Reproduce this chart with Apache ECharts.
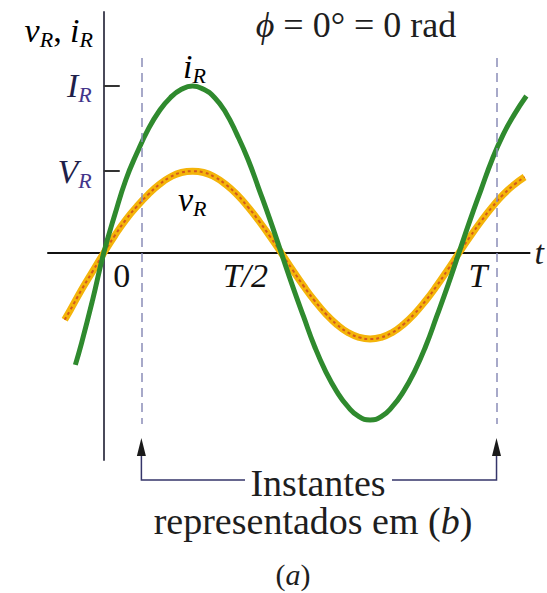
<!DOCTYPE html>
<html>
<head>
<meta charset="utf-8">
<script src="https://cdn.jsdelivr.net/npm/echarts@6/dist/echarts.min.js"></script>
<style>
  html, body { margin: 0; padding: 0; background: #fff; }
  #chart { width: 547px; height: 593px; }
</style>
</head>
<body>
<div id="chart"></div>
<script>
// Time in units of the period T; amplitudes in units of the current peak I_R.
const tCurrent = [-0.08, -0.0625, -0.03125, 0,
  0.03125, 0.0625, 0.09375, 0.125, 0.15625, 0.1875, 0.21875, 0.25,
  0.28125, 0.3125, 0.34375, 0.375, 0.40625, 0.4375, 0.46875, 0.5,
  0.53125, 0.5625, 0.59375, 0.625, 0.65625, 0.6875, 0.71875, 0.75,
  0.78125, 0.8125, 0.84375, 0.875, 0.90625, 0.9375, 0.96875, 1.0,
  1.03125, 1.0625, 1.09375, 1.125, 1.15625, 1.19];
const iR = [-0.67, -0.54, -0.28, 0,
  0.23, 0.44, 0.60, 0.74, 0.85, 0.93, 0.98, 1.0,
  0.98, 0.93, 0.84, 0.71, 0.56, 0.38, 0.195, 0,
  -0.195, -0.38, -0.56, -0.71, -0.83, -0.92, -0.98, -1.0,
  -0.98, -0.92, -0.83, -0.71, -0.56, -0.38, -0.195, 0,
  0.195, 0.38, 0.56, 0.71, 0.83, 0.94];

const tVoltage = [-0.11, -0.09375, -0.0625, -0.03125, 0,
  0.03125, 0.0625, 0.09375, 0.125, 0.15625, 0.1875, 0.21875, 0.25,
  0.28125, 0.3125, 0.34375, 0.375, 0.40625, 0.4375, 0.46875, 0.5,
  0.53125, 0.5625, 0.59375, 0.625, 0.65625, 0.6875, 0.71875, 0.75,
  0.78125, 0.8125, 0.84375, 0.875, 0.90625, 0.9375, 0.96875, 1.0,
  1.03125, 1.0625, 1.09375, 1.125, 1.15625, 1.185];
const vR = [-0.40, -0.34, -0.22, -0.11, 0,
  0.105, 0.20, 0.28, 0.35, 0.41, 0.455, 0.482, 0.49,
  0.482, 0.455, 0.41, 0.35, 0.275, 0.19, 0.097, 0,
  -0.10, -0.197, -0.286, -0.364, -0.428, -0.476, -0.505, -0.515,
  -0.505, -0.476, -0.428, -0.364, -0.286, -0.197, -0.10, 0,
  0.097, 0.19, 0.275, 0.35, 0.41, 0.455];

// Axis ticks and their labels
const xTickValues = [0, 0.5, 1];
const xTickLabels = ['0', 'T/2', 'T'];
const yTickValues = [0.49, 1.0];
const yTickLabels = ['V', 'I'];

// Instants marked by the dashed lines (in units of T)
const instants = [0.106, 1.106];

const SERIF = '"Liberation Serif", "DejaVu Serif", serif';

const pair = (xs, ys) => xs.map((x, k) => [x, ys[k]]);

const chart = echarts.init(document.getElementById('chart'), null, { renderer: 'svg' });

const subRich = {
  m: { fontFamily: SERIF, fontStyle: 'italic', fontSize: 34, color: '#1f1f4a', lineHeight: 40, verticalAlign: 'middle' },
  s: { fontFamily: SERIF, fontStyle: 'italic', fontSize: 22, color: '#43358a', lineHeight: 22, verticalAlign: 'bottom' },
  p: { fontFamily: SERIF, fontSize: 34, color: '#1f1f4a', lineHeight: 40, verticalAlign: 'middle' }
};

// Horizontal nudges of the t-axis labels relative to their ticks
const xLabelShift = [18, -36, 19];

chart.setOption({
  animation: false,
  grid: { left: 48, right: 15, top: 12, bottom: 133 },
  xAxis: {
    type: 'value',
    min: -0.157, max: 1.199,
    axisLine: { onZero: true, lineStyle: { color: '#111', width: 2 } },
    axisTick: { show: false },
    splitLine: { show: false },
    axisLabel: { show: false },
    name: 't',
    nameLocation: 'end',
    nameGap: 5,
    nameTextStyle: { fontFamily: SERIF, fontStyle: 'italic', fontSize: 34, color: '#1a1a1a' }
  },
  yAxis: {
    type: 'value',
    min: -1.2395, max: 1.443,
    axisLine: { onZero: true, lineStyle: { color: '#4a4a5a', width: 2 } },
    axisTick: { show: true, customValues: yTickValues, inside: true, length: 16, lineStyle: { color: '#333', width: 2 } },
    splitLine: { show: false },
    axisLabel: { show: false }
  },
  series: [
    {
      name: 'vR',
      type: 'line',
      data: pair(tVoltage, vR),
      smooth: true,
      showSymbol: false,
      lineStyle: { color: '#f4b40a', width: 7 },
      z: 2
    },
    {
      name: 'vR-dots',
      type: 'line',
      data: pair(tVoltage, vR),
      smooth: true,
      showSymbol: false,
      lineStyle: { color: '#d35a1c', width: 2, type: [3, 3] },
      z: 3
    },
    {
      name: 'iR',
      type: 'line',
      data: pair(tCurrent, iR),
      smooth: true,
      showSymbol: false,
      lineStyle: { color: '#2f8a2e', width: 5 },
      z: 4,
      markLine: {
        silent: true,
        symbol: ['none', 'none'],
        label: { show: false },
        lineStyle: { color: '#8a8db8', width: 1.5, type: [9, 6] },
        data: instants.map(t => [{ coord: [t, 1.168] }, { coord: [t, -1.024] }])
      }
    },
    {
      // tick labels of the t axis, anchored on the axis line
      name: 'tLabels',
      type: 'scatter',
      silent: true,
      symbolSize: 0,
      itemStyle: { opacity: 1 },
      data: xTickValues.map((v, k) => ({
        value: [v, 0],
        label: { offset: [xLabelShift[k], 0], fontStyle: v === 0 ? 'normal' : 'italic' }
      })),
      label: {
        show: true,
        position: 'bottom',
        distance: 6,
        opacity: 1,
        formatter: (p) => xTickLabels[p.dataIndex],
        fontFamily: SERIF,
        fontStyle: 'italic',
        fontSize: 34,
        color: '#111'
      },
      z: 5
    },
    {
      // tick labels of the vertical axis, left of the axis line
      name: 'yLabels',
      type: 'scatter',
      silent: true,
      symbolSize: 0,
      itemStyle: { opacity: 1 },
      data: yTickValues.map(v => [0, v]),
      label: {
        show: true,
        position: 'left',
        distance: 12,
        opacity: 1,
        formatter: (p) => '{m|' + yTickLabels[p.dataIndex] + '}{s|R}',
        rich: subRich
      },
      z: 5
    }
  ]
});

// Annotations: labels, bracket with arrows and captions
const xL = chart.convertToPixel({ xAxisIndex: 0 }, instants[0]);
const xR = chart.convertToPixel({ xAxisIndex: 0 }, instants[1]);
const yBracket = 480;

chart.setOption({
  graphic: [
    {
      type: 'text', x: 93, y: 30,
      style: { text: '{m|v}{s|R}{p|, }{m|i}{s|R}', rich: subRich, align: 'right', verticalAlign: 'middle' }
    },
    {
      type: 'text', x: 183, y: 66,
      style: { text: '{m|i}{s|R}', rich: subRich, align: 'left', verticalAlign: 'middle' }
    },
    {
      type: 'text', x: 178, y: 199,
      style: { text: '{m|v}{s|R}', rich: subRich, align: 'left', verticalAlign: 'middle' }
    },
    {
      type: 'text', x: 356, y: 25,
      style: {
        text: '{i|ϕ} = 0° = 0 rad',
        font: '36px ' + SERIF, fill: '#1e1e1e', align: 'center', verticalAlign: 'middle',
        rich: { i: { fontFamily: SERIF, fontStyle: 'italic', fontSize: 36, color: '#1e1e1e' } }
      }
    },
    {
      type: 'polyline',
      shape: { points: [[xL, 456], [xL, yBracket], [245, yBracket]] },
      style: { stroke: '#35356a', lineWidth: 1.5, fill: null }
    },
    {
      type: 'polyline',
      shape: { points: [[392, yBracket], [xR, yBracket], [xR, 456]] },
      style: { stroke: '#35356a', lineWidth: 1.5, fill: null }
    },
    {
      type: 'polygon',
      shape: { points: [[xL, 438], [xL - 4.5, 456], [xL + 4.5, 456]] },
      style: { fill: '#1a1a1a' }
    },
    {
      type: 'polygon',
      shape: { points: [[xR, 438], [xR - 4.5, 456], [xR + 4.5, 456]] },
      style: { fill: '#1a1a1a' }
    },
    {
      type: 'text', x: 318, y: 483,
      style: { text: 'Instantes', font: '38px ' + SERIF, fill: '#1e1e1e', align: 'center', verticalAlign: 'middle' }
    },
    {
      type: 'text', x: 313, y: 521,
      style: {
        text: 'representados em ({i|b})',
        font: '38px ' + SERIF, fill: '#1e1e1e', align: 'center', verticalAlign: 'middle',
        rich: { i: { fontFamily: SERIF, fontStyle: 'italic', fontSize: 38, color: '#1e1e1e' } }
      }
    },
    {
      type: 'text', x: 293, y: 574,
      style: {
        text: '({i|a})',
        font: '30px ' + SERIF, fill: '#1e1e1e', align: 'center', verticalAlign: 'middle',
        rich: { i: { fontFamily: SERIF, fontStyle: 'italic', fontSize: 30, color: '#1e1e1e' } }
      }
    }
  ]
});
</script>
</body>
</html>
